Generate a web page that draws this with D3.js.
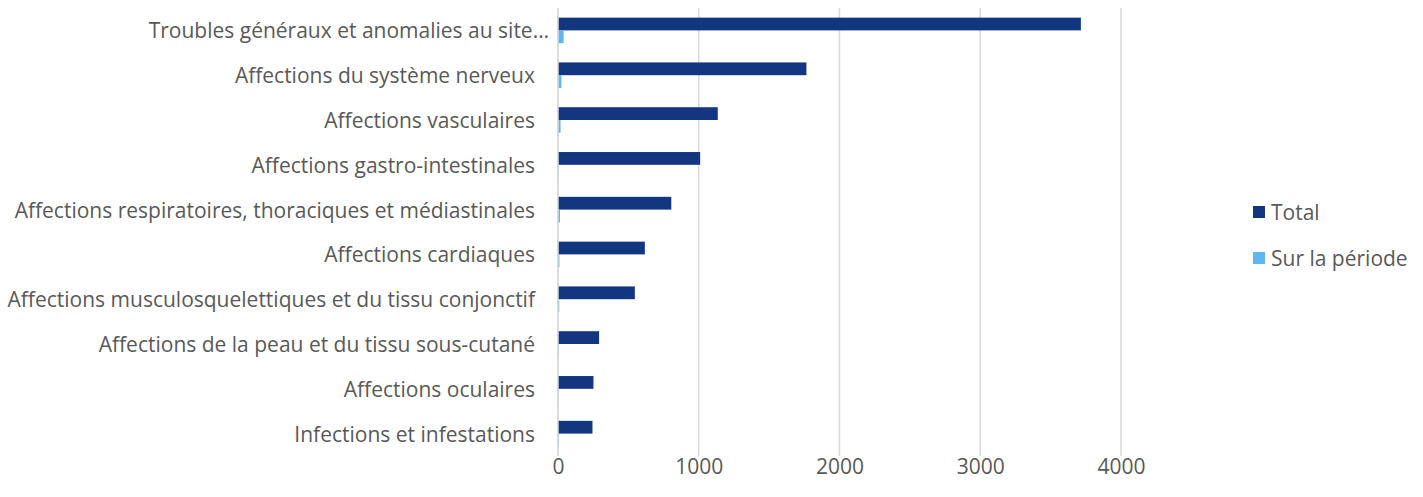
<!DOCTYPE html>
<html><head><meta charset="utf-8">
<script src="https://cdn.jsdelivr.net/npm/d3@7/dist/d3.min.js"></script>
<style>body{margin:0;background:#fff}svg{display:block}text{font-family:"Open Sans",sans-serif;fill:#595959}</style>
</head><body><svg id="c" width="1423" height="497"></svg>
<script>
const categories = [
  "Troubles généraux et anomalies au site…",
  "Affections du système nerveux",
  "Affections vasculaires",
  "Affections gastro-intestinales",
  "Affections respiratoires, thoraciques et médiastinales",
  "Affections cardiaques",
  "Affections musculosquelettiques et du tissu conjonctif",
  "Affections de la peau et du tissu sous-cutané",
  "Affections oculaires",
  "Infections et infestations"
];
const totalValues = [3715, 1765, 1135, 1010, 805, 617, 546, 292, 252, 245];
const periodValues = [40, 24, 18, 3, 14, 10, 9, 5, 2, 5];
const seriesNames = ["Total", "Sur la période"];
const xTicks = [0, 1000, 2000, 3000, 4000];
const colors = ["#12367F", "#5DB7F0"];

const svg = d3.select("#c");
const pLeft = 558, pRight = 1121, pTop = 8, pBottom = 456;
const fs = 21;
const x = d3.scaleLinear().domain([0, 4000]).range([pLeft, pRight]);
const y = d3.scaleBand().domain(categories).range([pTop, pBottom]).paddingInner(0.43).paddingOuter(0.215);
const sub = d3.scaleBand().domain(seriesNames).range([0, y.bandwidth()]);

// gridlines
svg.append("g").selectAll("line").data(xTicks).join("line")
  .attr("x1", d => x(d)).attr("x2", d => x(d))
  .attr("y1", pTop).attr("y2", pBottom)
  .attr("stroke", "#d9d9d9").attr("stroke-width", 1.5);

// bars
const series = [totalValues, periodValues];
series.forEach((vals, si) => {
  svg.append("g").selectAll("rect").data(categories).join("rect")
    .attr("x", x(0))
    .attr("y", c => y(c) + sub(seriesNames[si]))
    .attr("width", (c, i) => Math.max(0, x(vals[i]) - x(0)))
    .attr("height", sub.bandwidth())
    .attr("fill", colors[si]);
});

// category axis line
svg.append("line").attr("x1", x(0)).attr("x2", x(0)).attr("y1", pTop).attr("y2", pBottom)
  .attr("stroke", "#d9d9d9").attr("stroke-width", 1.5);

// category labels
svg.append("g").selectAll("text").data(categories).join("text")
  .attr("x", d => d.endsWith("…") ? 549 : 535)
  .attr("y", d => y(d) + y.bandwidth() / 2)
  .attr("text-anchor", "end").attr("dominant-baseline", "central")
  .attr("font-size", fs).text(d => d);

// x tick labels
const xAxis = d3.axisBottom(x).tickValues(xTicks).tickSize(0).tickPadding(0).tickFormat(d3.format("d"));
const gx = svg.append("g").attr("transform", `translate(0,${pBottom})`).call(xAxis);
gx.select(".domain").remove();
gx.selectAll("text").attr("y", 10).attr("dy", null).attr("dominant-baseline", "central")
  .attr("font-size", fs).style("font-family", '"Open Sans",sans-serif').attr("fill", "#595959");

// legend
const lg = svg.append("g").selectAll("g").data(seriesNames).join("g")
  .attr("transform", (d, i) => `translate(1253,${212 + i * 46})`);
lg.append("rect").attr("x", 0).attr("y", -6).attr("width", 12).attr("height", 12)
  .attr("fill", (d, i) => colors[i]);
lg.append("text").attr("x", 18).attr("y", 0).attr("dominant-baseline", "central")
  .attr("font-size", fs).text(d => d);
</script></body></html>
